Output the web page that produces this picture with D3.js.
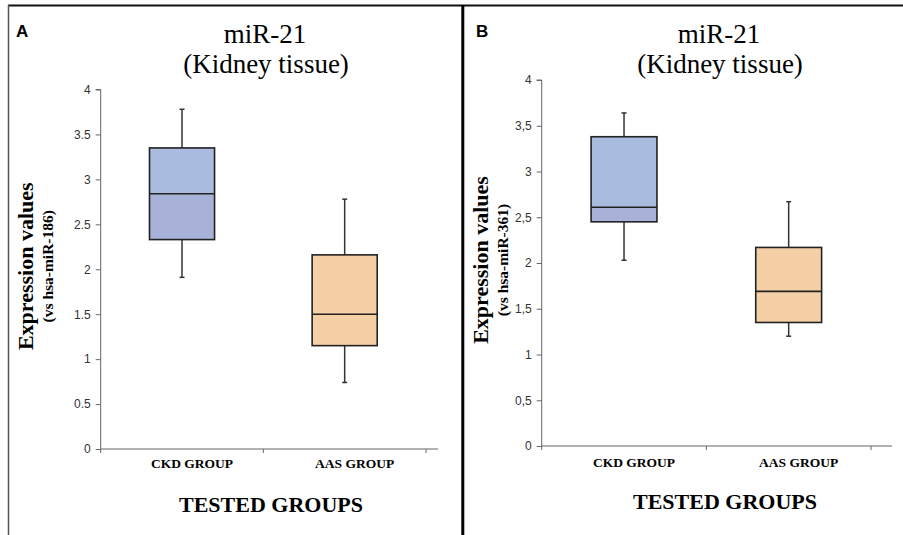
<!DOCTYPE html>
<html>
<head>
<meta charset="utf-8">
<script src="https://cdn.jsdelivr.net/npm/d3@7"></script>
<style>
  body { margin: 0; background: #fff; }
  svg { display: block; }
  .serif { font-family: "Liberation Serif", "DejaVu Serif", serif; }
  .sans { font-family: "Liberation Sans", Arial, sans-serif; }
</style>
</head>
<body>
<div id="chart"></div>
<script>
const W = 903, H = 535;

// groups and tick values
const groups = ["CKD GROUP", "AAS GROUP"];
const yTicks = [0, 0.5, 1, 1.5, 2, 2.5, 3, 3.5, 4];

// panel A box stats (vs hsa-miR-186)
const aLow    = [1.91, 0.74];
const aQ1     = [2.33, 1.15];
const aMedian = [2.84, 1.50];
const aQ3     = [3.35, 2.16];
const aHigh   = [3.78, 2.78];

// panel B box stats (vs hsa-miR-361)
const bLow    = [2.03, 1.20];
const bQ1     = [2.45, 1.35];
const bMedian = [2.61, 1.69];
const bQ3     = [3.38, 2.17];
const bHigh   = [3.64, 2.67];

const svg = d3.select("#chart").append("svg")
    .attr("width", W)
    .attr("height", H);

// frame
svg.append("line").attr("x1", 8).attr("x2", W).attr("y1", 5.5).attr("y2", 5.5)
    .attr("stroke", "#111").attr("stroke-width", 2);
svg.append("line").attr("x1", 8.5).attr("x2", 8.5).attr("y1", 5).attr("y2", H)
    .attr("stroke", "#555").attr("stroke-width", 1.5);
svg.append("line").attr("x1", 462.8).attr("x2", 462.8).attr("y1", 5).attr("y2", H)
    .attr("stroke", "#000").attr("stroke-width", 3);

const panels = [
  { letter: "A", lx: 16, ox: 0, axisX: 100.7, bandEnd: 426, axisEnd: 438,
    y0: 449, y1: 89.5, sep: ".", ref: "(vs hsa-miR-186)", titleX: 265,
    low: aLow, q1: aQ1, med: aMedian, q3: aQ3, high: aHigh, bottomTitleY: 512, catY: 468 },
  { letter: "B", lx: 476, ox: 455, axisX: 541.7, bandEnd: 871, axisEnd: 892,
    y0: 446, y1: 80, sep: ",", ref: "(vs hsa-miR-361)", titleX: 719,
    low: bLow, q1: bQ1, med: bMedian, q3: bQ3, high: bHigh, bottomTitleY: 509, catY: 467 }
];

panels.forEach(function(p) {
  const g = svg.append("g");

  const y = d3.scaleLinear().domain([0, 4]).range([p.y0, p.y1]);
  const x = d3.scaleBand().domain(groups).range([p.axisX, p.bandEnd]);

  // panel letter
  g.append("text").attr("class", "sans").attr("x", p.lx).attr("y", 37)
      .style("font-weight", "bold").style("font-size", "17px")
      .text(p.letter);

  // title
  g.append("text").attr("class", "serif").attr("x", p.titleX).attr("y", 43)
      .attr("text-anchor", "middle").style("font-size", "27px").text("miR-21");
  g.append("text").attr("class", "serif").attr("x", p.titleX + 1).attr("y", 73)
      .attr("text-anchor", "middle").style("font-size", "27px").text("(Kidney tissue)");

  // y axis
  const yAxis = d3.axisLeft(y).tickValues(yTicks).tickSize(5).tickPadding(5)
      .tickFormat(function(d) { return String(d).replace(".", p.sep); });
  const ya = g.append("g").attr("transform", "translate(" + p.axisX + ",0)").call(yAxis);
  ya.attr("font-family", null).attr("font-size", null);
  ya.select(".domain").attr("stroke", "#666").attr("d", "M0," + p.y0 + "V" + p.y1 + "H-5");
  ya.selectAll(".tick line").attr("stroke", "#666");
  ya.selectAll(".tick text").attr("class", "sans").style("font-size", "12px").attr("fill", "#333");

  // x axis line with ticks on category boundaries
  g.append("line").attr("x1", p.axisX).attr("x2", p.axisEnd).attr("y1", p.y0).attr("y2", p.y0)
      .attr("stroke", "#666");
  const bounds = [x.range()[0]].concat(groups.map(function(d) { return x(d) + x.bandwidth(); }));
  g.selectAll(".xtick").data(bounds).join("line")
      .attr("x1", function(d) { return d; }).attr("x2", function(d) { return d; })
      .attr("y1", p.y0).attr("y2", p.y0 + 4).attr("stroke", "#666");

  g.selectAll(".cat").data(groups).join("text")
      .attr("class", "serif")
      .attr("x", function(d) { return x(d) + x.bandwidth() / 2 + 10; })
      .attr("y", p.catY).attr("text-anchor", "middle")
      .style("font-weight", "bold").style("font-size", "13.5px")
      .text(function(d) { return d; });

  g.append("text").attr("class", "serif").attr("x", p.titleX + 6).attr("y", p.bottomTitleY)
      .attr("text-anchor", "middle")
      .style("font-weight", "bold").style("font-size", "22px")
      .text("TESTED GROUPS");

  // y labels
  const midY = (p.y0 + p.y1) / 2 - 3;
  g.append("text").attr("class", "serif")
      .attr("transform", "translate(" + (p.ox + 33) + "," + midY + ") rotate(-90)")
      .attr("text-anchor", "middle").style("font-weight", "bold")
      .style("font-size", "22px").text("Expression values");
  g.append("text").attr("class", "serif")
      .attr("transform", "translate(" + (p.ox + 53) + "," + midY + ") rotate(-90)")
      .attr("text-anchor", "middle").style("font-weight", "bold")
      .style("font-size", "15.5px").text(p.ref);

  // boxes
  const bw = x.bandwidth() * 0.4;
  const rows = groups.map(function(d, i) {
    return { g: d, low: p.low[i], q1: p.q1[i], med: p.med[i], q3: p.q3[i], high: p.high[i], i: i };
  });
  const upper = ["#a9bce0", "#f5cfa6"];
  const lower = ["#a8b2d8", "#f5cfa6"];

  rows.forEach(function(r) {
    const cx = x(r.g) + x.bandwidth() / 2;
    // whiskers
    g.append("line").attr("x1", cx).attr("x2", cx).attr("y1", y(r.high)).attr("y2", y(r.q3))
        .attr("stroke", "#333").attr("stroke-width", 1.5);
    g.append("line").attr("x1", cx).attr("x2", cx).attr("y1", y(r.q1)).attr("y2", y(r.low))
        .attr("stroke", "#333").attr("stroke-width", 1.5);
    [r.high, r.low].forEach(function(v) {
      g.append("line").attr("x1", cx - 2.5).attr("x2", cx + 2.5).attr("y1", y(v)).attr("y2", y(v))
          .attr("stroke", "#333").attr("stroke-width", 1.5);
    });
    // box halves
    g.append("rect").attr("x", cx - bw / 2).attr("width", bw)
        .attr("y", y(r.q3)).attr("height", y(r.med) - y(r.q3)).attr("fill", upper[r.i]);
    g.append("rect").attr("x", cx - bw / 2).attr("width", bw)
        .attr("y", y(r.med)).attr("height", y(r.q1) - y(r.med)).attr("fill", lower[r.i]);
    g.append("rect").attr("x", cx - bw / 2).attr("width", bw)
        .attr("y", y(r.q3)).attr("height", y(r.q1) - y(r.q3))
        .attr("fill", "none").attr("stroke", "#222").attr("stroke-width", 1.6);
    g.append("line").attr("x1", cx - bw / 2).attr("x2", cx + bw / 2)
        .attr("y1", y(r.med)).attr("y2", y(r.med)).attr("stroke", "#222").attr("stroke-width", 1.6);
  });
});
</script>
</body>
</html>
